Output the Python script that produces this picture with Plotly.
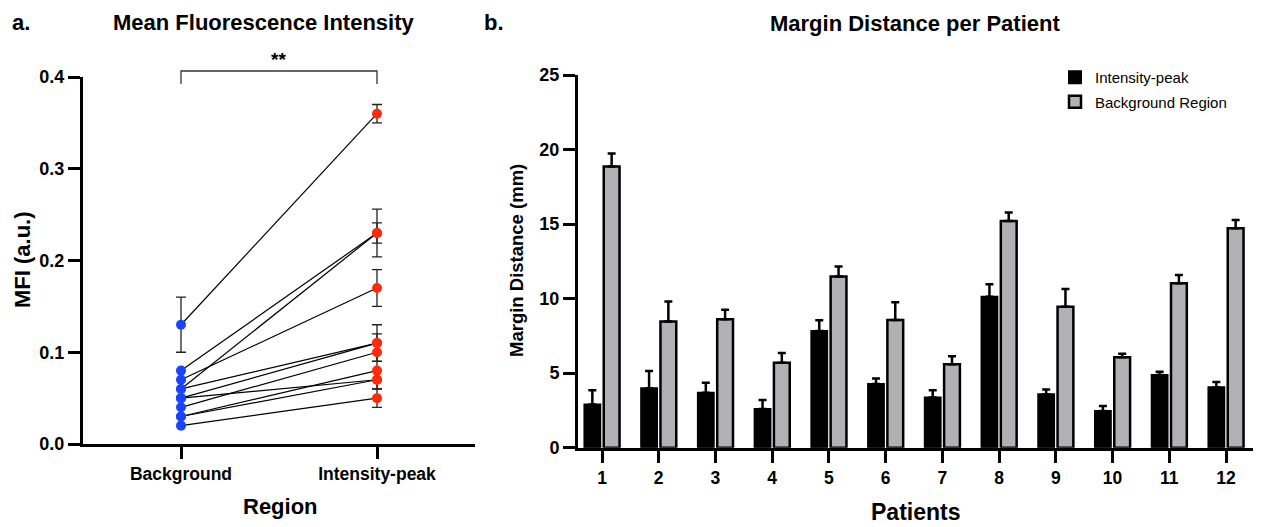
import plotly.graph_objects as go

# ---------------- Data ----------------
# Panel a: paired MFI values (Background -> Intensity-peak), one pair per patient line
region_labels = ["Background", "Intensity-peak"]
mfi_background = [0.13, 0.08, 0.06, 0.07, 0.06, 0.05, 0.05, 0.04, 0.03, 0.03, 0.02]
mfi_peak = [0.36, 0.23, 0.23, 0.17, 0.11, 0.11, 0.07, 0.10, 0.08, 0.07, 0.05]
mfi_background_err = [0.03, 0.0, 0.01, 0.01, 0.0, 0.0, 0.0, 0.01, 0.0, 0.0, 0.0]
mfi_peak_err = [0.01, 0.026, 0.011, 0.02, 0.02, 0.01, 0.01, 0.01, 0.01, 0.01, 0.01]

# Panel b: margin distance per patient
patients = [1, 2, 3, 4, 5, 6, 7, 8, 9, 10, 11, 12]
intensity_peak_mm = [2.9, 3.98, 3.69, 2.6, 7.83, 4.27, 3.36, 10.13, 3.58, 2.46, 4.88, 4.05]
intensity_peak_err = [0.95, 1.17, 0.67, 0.6, 0.72, 0.38, 0.49, 0.83, 0.32, 0.34, 0.22, 0.35]
background_mm = [18.86, 8.46, 8.61, 5.7, 11.48, 8.57, 5.6, 15.21, 9.46, 6.06, 11.03, 14.72]
background_err = [0.87, 1.34, 0.65, 0.65, 0.67, 1.18, 0.53, 0.56, 1.19, 0.24, 0.56, 0.56]

W, H = 1265, 527
OFF = 8  # page body margin offset
FONT = "Liberation Sans, Arial, Helvetica, sans-serif"


def px(x):
    return (x - OFF) / W


def py(y):
    return 1 - (y - OFF) / H


fig = go.Figure()

# ---- Panel a: paired lines ----
for b, p in zip(mfi_background, mfi_peak):
    fig.add_trace(go.Scatter(
        x=[0, 1], y=[b, p], mode="lines",
        line=dict(color="black", width=1.2),
        showlegend=False, hoverinfo="skip",
        xaxis="x", yaxis="y"))

fig.add_trace(go.Scatter(
    x=[0] * len(mfi_background), y=mfi_background, mode="markers",
    marker=dict(color="#1844ff", size=10),
    error_y=dict(type="data", array=mfi_background_err, color="#222222",
                 thickness=1.3, width=5),
    showlegend=False, xaxis="x", yaxis="y"))
fig.add_trace(go.Scatter(
    x=[1] * len(mfi_peak), y=mfi_peak, mode="markers",
    marker=dict(color="#ff2a0c", size=10),
    error_y=dict(type="data", array=mfi_peak_err, color="#222222",
                 thickness=1.3, width=5),
    showlegend=False, xaxis="x", yaxis="y"))

# ---- Panel b: grouped bars ----
fig.add_trace(go.Bar(
    x=patients, y=intensity_peak_mm, name="Intensity-peak",
    marker=dict(color="black", line=dict(color="black", width=2)),
    error_y=dict(type="data", array=intensity_peak_err,
                 arrayminus=[0] * len(patients), symmetric=False,
                 color="black", thickness=2.5, width=4),
    legendgroup="a", xaxis="x2", yaxis="y2"))
fig.add_trace(go.Bar(
    x=patients, y=background_mm, name="Background Region",
    marker=dict(color="#b1b1b4", line=dict(color="black", width=2.5)),
    error_y=dict(type="data", array=background_err,
                 arrayminus=[0] * len(patients), symmetric=False,
                 color="black", thickness=2.5, width=4),
    legendgroup="b", xaxis="x2", yaxis="y2"))

axis_common = dict(
    showline=True, linecolor="black", linewidth=3,
    ticks="outside", ticklen=12, tickwidth=3, tickcolor="black",
    showgrid=False, zeroline=False, automargin=False,
)
tick_font = dict(family=FONT, size=18, color="black", weight="bold")

fig.update_layout(
    width=W, height=H,
    margin=dict(l=0, r=0, t=0, b=0, pad=0, autoexpand=False),
    paper_bgcolor="white", plot_bgcolor="white",
    barmode="group", bargap=0.32, bargroupgap=0.18,
    font=dict(family=FONT, color="black"),
    xaxis=dict(domain=[px(83), px(475)], range=[-0.5, 1.5],
               tickvals=[0, 1], ticktext=region_labels, anchor="y",
               tickfont=dict(tick_font, size=17.5), **axis_common),
    yaxis=dict(domain=[py(444), py(77)], range=[0, 0.4],
               tickvals=[0, 0.1, 0.2, 0.3, 0.4], tickformat=".1f",
               anchor="x", tickfont=tick_font, **axis_common),
    xaxis2=dict(domain=[px(578), px(1253)], range=[0.577, 12.476],
                tickvals=patients, anchor="y2",
                tickfont=dict(tick_font, size=17.5), **axis_common),
    yaxis2=dict(domain=[py(447.7), py(75)], range=[0, 25],
                tickvals=[0, 5, 10, 15, 20, 25], anchor="x2",
                tickfont=tick_font, **axis_common),
    legend=dict(x=px(1055), y=py(61), xanchor="left", yanchor="top",
                font=dict(family=FONT, size=15, color="black"),
                tracegroupgap=2, bgcolor="rgba(0,0,0,0)"),
)

# significance bracket
bx0, bx1 = px(181), px(377)
fig.add_shape(type="path", xref="paper", yref="paper",
              path=f"M {bx0},{py(84)} L {bx0},{py(71)} L {bx1},{py(71)} L {bx1},{py(84)}",
              line=dict(color="#333333", width=1.3))

ann = [
    dict(text="a.", x=px(10), y=py(8), xanchor="left", yanchor="top", size=22),
    dict(text="Mean Fluorescence Intensity", x=px(264), y=py(8), xanchor="center", yanchor="top", size=22),
    dict(text="**", x=px(278), y=py(60), xanchor="center", yanchor="middle", size=19),
    dict(text="b.", x=px(482), y=py(8), xanchor="left", yanchor="top", size=22),
    dict(text="Margin Distance per Patient", x=px(915), y=py(9), xanchor="center", yanchor="top", size=22),
    dict(text="Region", x=px(280), y=py(506), xanchor="center", yanchor="middle", size=22),
    dict(text="Patients", x=px(915), y=py(512), xanchor="center", yanchor="middle", size=23),
]
for a in ann:
    fig.add_annotation(text=a["text"], x=a["x"], y=a["y"], xref="paper", yref="paper",
                       xanchor=a["xanchor"], yanchor=a["yanchor"], showarrow=False,
                       font=dict(family=FONT, size=a["size"], color="black", weight="bold"))

fig.add_annotation(text="MFI (a.u.)", x=px(22), y=py(260), xref="paper", yref="paper",
                   textangle=-90, showarrow=False, xanchor="center", yanchor="middle",
                   font=dict(family=FONT, size=22, color="black", weight="bold"))
fig.add_annotation(text="Margin Distance (mm)", x=px(516), y=py(261), xref="paper", yref="paper",
                   textangle=-90, showarrow=False, xanchor="center", yanchor="middle",
                   font=dict(family=FONT, size=18.5, color="black", weight="bold"))

fig.write_html("out.html")
